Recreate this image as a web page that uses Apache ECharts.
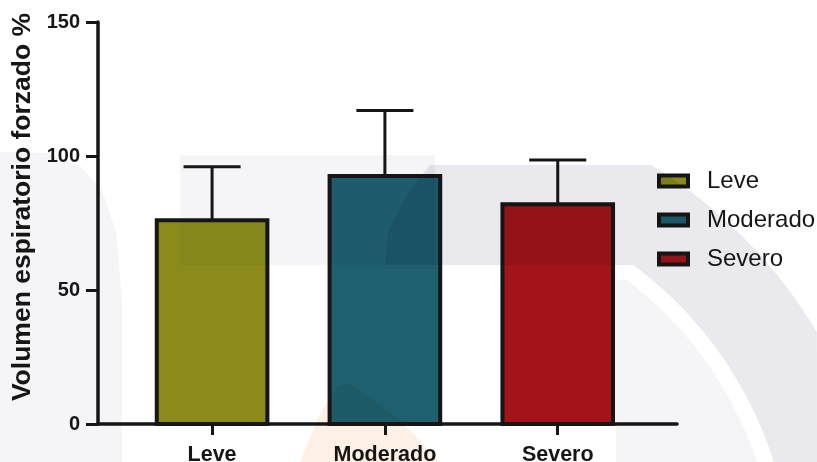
<!DOCTYPE html>
<html>
<head>
<meta charset="utf-8">
<script src="https://cdn.jsdelivr.net/npm/echarts@6/dist/echarts.min.js"></script>
<style>
  html, body { margin: 0; padding: 0; background: #ffffff; }
  #chart { width: 817px; height: 462px; }
</style>
</head>
<body>
<div id="chart"></div>
<script>
// Severity groups, mean FEV% and the upper SD whisker of each group
const categories = ['Leve', 'Moderado', 'Severo'];
const means = [76, 92.5, 82];
const sdUpper = [20, 24.5, 16.5];
const yTicks = [0, 50, 100, 150];
const barColors = ['#8a8b1b', '#1e5f70', '#a3131a'];

const FONT = '"Liberation Sans", Arial, Helvetica, sans-serif';
const INK = '#161616';
const BAR_W = 0.64;   // bar width in category units
const CAP_W = 0.33;   // whisker cap width in category units

const chart = echarts.init(document.getElementById('chart'), null, { renderer: 'canvas' });

function renderBar(params, api) {
  const x = api.value(0);
  const m = api.value(1);
  const s = api.value(2);
  const top = api.coord([x, m]);
  const base = api.coord([x, 0]);
  const whisker = api.coord([x, m + s]);
  const halfW = api.size([BAR_W, 0])[0] / 2;
  const capHalf = api.size([CAP_W, 0])[0] / 2;
  return {
    type: 'group',
    children: [
      {
        type: 'line',
        shape: { x1: top[0], y1: top[1], x2: whisker[0], y2: whisker[1] },
        style: { stroke: INK, lineWidth: 3 }
      },
      {
        type: 'line',
        shape: { x1: whisker[0] - capHalf, y1: whisker[1], x2: whisker[0] + capHalf, y2: whisker[1] },
        style: { stroke: INK, lineWidth: 3 }
      },
      {
        type: 'rect',
        shape: { x: top[0] - halfW, y: top[1], width: halfW * 2, height: base[1] - top[1] },
        style: { fill: api.visual('color'), stroke: INK, lineWidth: 4 }
      }
    ]
  };
}

// Faint background emblem, multiplied over the plot
function arcPoints(cx, cy, r, yFrom, yTo, steps) {
  const pts = [];
  for (let i = 0; i <= steps; i++) {
    const y = yFrom + (yTo - yFrom) * i / steps;
    const dy = cy - y;
    pts.push([cx + Math.sqrt(Math.max(r * r - dy * dy, 0)), y]);
  }
  return pts;
}
const EC = [400, 580];
const outerArc = arcPoints(EC[0], EC[1], 485, 165, 332, 24);
const innerArc = arcPoints(EC[0], EC[1], 392, 462, 265, 24);
const gapArc = arcPoints(EC[0], EC[1], 376, 280, 462, 24);
const emblem = [
  { points: [[0, 152], [45, 153], [80, 166], [102, 190], [116, 232], [122, 300], [122, 462], [0, 462]], fill: '#f5f5f8' },
  { points: [[180, 155], [435, 155], [435, 265], [180, 265]], fill: '#f5f5f8' },
  { points: [[385, 265], [388, 230], [410, 190], [430, 165]].concat(outerArc, [[817, 462]], innerArc), fill: '#e9e9ee' },
  { points: [[616, 280]].concat(gapArc, [[616, 462]]), fill: '#f5f5f8' },
  { points: [[300, 462], [322, 410], [338, 386], [350, 383], [400, 420], [440, 462]], fill: '#fdf0e6' }
];

const series = categories.map((name, i) => ({
  name: name,
  type: 'custom',
  renderItem: renderBar,
  itemStyle: { color: barColors[i] },
  encode: { x: 0, y: 1 },
  data: [[i, means[i], sdUpper[i]]],
  z: 2
}));

chart.setOption({
  animation: false,
  backgroundColor: '#ffffff',
  textStyle: { fontFamily: FONT },
  grid: { left: 98, right: 140, top: 22, bottom: 38, containLabel: false, outerBoundsMode: 'none' },
  xAxis: {
    type: 'value',
    min: -0.66,
    max: 2.69,
    splitLine: { show: false },
    axisLine: { show: true, onZero: false, lineStyle: { color: INK, width: 3.5 } },
    axisTick: { show: true, customValues: [0, 1, 2], length: 11, lineStyle: { color: INK, width: 3 } },
    axisLabel: {
      customValues: [0, 1, 2],
      formatter: v => categories[Math.round(v)],
      fontSize: 21.5, fontWeight: 'bold', color: INK, fontFamily: FONT, margin: 20
    }
  },
  yAxis: {
    type: 'value',
    min: yTicks[0],
    max: yTicks[yTicks.length - 1],
    interval: yTicks[1] - yTicks[0],
    name: 'Volumen espiratorio forzado %',
    nameLocation: 'middle',
    nameGap: 59,
    nameTextStyle: { fontSize: 26.5, fontWeight: 'bold', color: INK, fontFamily: FONT, padding: [0, 0, 0, 32] },
    splitLine: { show: false },
    axisLine: { show: true, onZero: false, lineStyle: { color: INK, width: 3.5 } },
    axisTick: { show: true, length: 12, lineStyle: { color: INK, width: 3 } },
    axisLabel: { fontSize: 20, fontWeight: 'bold', color: INK, fontFamily: FONT, margin: 18 }
  },
  legend: {
    orient: 'vertical',
    left: 657,
    top: 168,
    padding: 0,
    itemWidth: 29,
    itemHeight: 11,
    itemGap: 13,
    selectedMode: false,
    textStyle: { fontSize: 24, color: INK, fontFamily: FONT, lineHeight: 26, padding: [0, 0, 0, 14] },
    data: categories.map(name => ({
      name: name,
      icon: 'rect',
      itemStyle: { borderColor: INK, borderWidth: 4 }
    }))
  },
  graphic: emblem.map(e => ({
    type: 'polygon',
    silent: true,
    z: 50,
    shape: { points: e.points },
    style: { fill: e.fill, blend: 'multiply' }
  })),
  series: series
});
</script>
</body>
</html>
